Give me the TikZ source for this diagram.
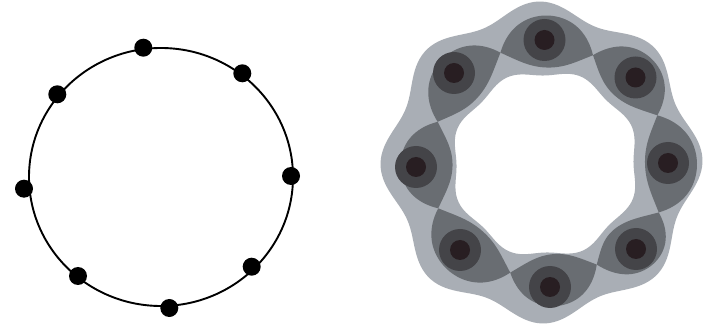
\documentclass[tikz,border=0pt]{standalone}
\definecolor{bodygrey}{HTML}{A9AEB5}
\definecolor{petalgrey}{HTML}{696D72}
\definecolor{ringgrey}{HTML}{444448}
\definecolor{coregrey}{HTML}{281E22}
\tikzset{
  dotnode/.style={circle,fill=black,draw=none,inner sep=0pt,minimum size=18pt},
  ringline/.style={draw=black,line width=1.9pt},
  petalfill/.style={fill=petalgrey},
  ringfill/.style={fill=ringgrey},
  corefill/.style={fill=coregrey}
}
\begin{document}
\begin{tikzpicture}[x=1pt,y=-1pt]
\useasboundingbox (0,0) rectangle (714,328);
\fill[white] (0,0) rectangle (714,328);
% ---------- left: circle with eight dots
\draw[ringline] (161,177) ellipse [x radius=132, y radius=129];
\node[dotnode] (d1) at (143.3,47.7) {};
\node[dotnode] (d2) at (242.3,73.3) {};
\node[dotnode] (d3) at (57.3,94.3) {};
\node[dotnode] (d4) at (291,176) {};
\node[dotnode] (d5) at (24,188.7) {};
\node[dotnode] (d6) at (251.7,266.7) {};
\node[dotnode] (d7) at (78,276) {};
\node[dotnode] (d8) at (169.3,308) {};
% ---------- right: wavy ring
\fill[bodygrey,even odd rule]
  plot[domain=0:360,samples=241,variable=\t]
    ({541.5+(153.5+7.5*cos(8*(\t-0.8)))*cos(\t)},{162.5-(153.5+7.5*cos(8*(\t-0.8)))*sin(\t)}) -- cycle
  plot[domain=0:360,samples=241,variable=\t]
    ({545+(91.5-3*cos(8*(\t-0.8)))*cos(\t)},{164-(91.5-3*cos(8*(\t-0.8)))*sin(\t)}) -- cycle;
% petals (lens shapes between crossings)
\def\bmp{3}
\def\amp{26}
\foreach \a/\b/\ra/\rb in {-23.5/23/124/122, 23/66/122/118, 66/112/118/119, 112/159/119/115,
                           159/203/115/116, 203/252.4/116/115, 252.4/297/115/114, 297/336.5/114/124}{
  \fill[petalfill]
    plot[domain=0:1,samples=41,variable=\t]
      ({545+(\ra+(\rb-\ra)*\t+(\bmp+\amp)*sin(180*\t)*(1.35-0.35*sin(180*\t)))*cos(\a+(\b-\a)*\t)},
       {163-(\ra+(\rb-\ra)*\t+(\bmp+\amp)*sin(180*\t)*(1.35-0.35*sin(180*\t)))*sin(\a+(\b-\a)*\t)})
    -- plot[domain=1:0,samples=41,variable=\t]
      ({545+(\ra+(\rb-\ra)*\t+(\bmp-\amp)*sin(180*\t)*(1.35-0.35*sin(180*\t)))*cos(\a+(\b-\a)*\t)},
       {163-(\ra+(\rb-\ra)*\t+(\bmp-\amp)*sin(180*\t)*(1.35-0.35*sin(180*\t)))*sin(\a+(\b-\a)*\t)})
    -- cycle;
}
% cores
\foreach \cx/\cy in {668/163, 635.5/77.5, 544.5/40, 454/73, 416/167, 460/250, 550/287, 636/249}{
  \fill[ringfill] (\cx,\cy) circle[radius=21];
  \fill[corefill] (\cx,\cy) circle[radius=10];
}
\end{tikzpicture}
\end{document}
